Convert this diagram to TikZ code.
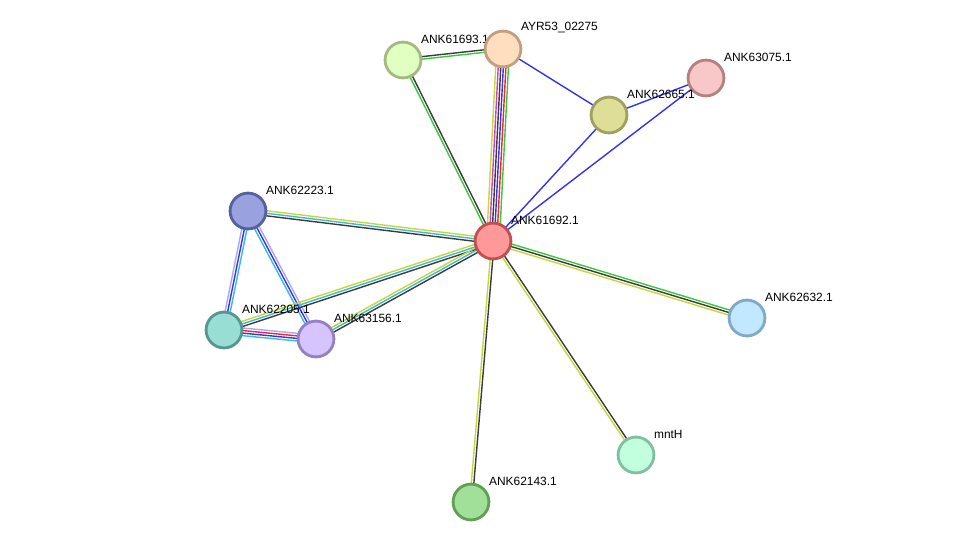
\documentclass[tikz,border=0pt]{standalone}
\usepackage{fontspec}
\setmainfont{Liberation Sans}
\usepackage{tikz}
\usetikzlibrary{calc, backgrounds}
\definecolor{TextMine}{HTML}{C4D83A}
\definecolor{CoExpr}{HTML}{3C3C3C}
\definecolor{DataBase}{HTML}{3CBCD8}
\definecolor{Neighb}{HTML}{3CC83C}
\definecolor{Fusion}{HTML}{F02828}
\definecolor{CoOccur}{HTML}{3434F0}
\definecolor{Experim}{HTML}{D040D0}
\definecolor{Homol}{HTML}{A8A8F8}

\newcommand{\evid}[4]{%
  \foreach \col [count=\k] in {#4}{
    \pgfmathsetmacro{\off}{(\k-(#3+1)/2)*1.45}
    \draw[evline, \col] ($(#1)!\off pt!90:(#2)$) -- ($(#2)!\off pt!-90:(#1)$);
  }}

\begin{document}
\begin{tikzpicture}[x=0.02cm, y=-0.02cm]
    \tikzstyle{prot} = [circle, minimum size=20.4pt, line width=1.6pt, inner sep=0pt]
    \tikzstyle{lbl} = [font=\fontsize{6.8}{7.5}\selectfont, inner sep=1.1pt, xshift=1.2pt]
    \tikzstyle{evline} = [line width=0.8pt]
    \useasboundingbox (0,0) rectangle (975,548);

    \node [prot, fill={rgb,255:red,255;green,153;blue,153}, draw={rgb,255:red,192;green,80;blue,80}, label={[lbl]45:ANK61692.1}] (ank61692) at (493,241) {};
    \node [prot, fill={rgb,255:red,224;green,255;blue,192}, draw={rgb,255:red,164;green,186;blue,128}, label={[lbl]45:ANK61693.1}] (ank61693) at (403,60) {};
    \node [prot, fill={rgb,255:red,255;green,222;blue,192}, draw={rgb,255:red,192;green,160;blue,128}, label={[lbl]45:AYR53\_02275}] (ayr53) at (503,49) {};
    \node [prot, fill={rgb,255:red,248;green,200;blue,200}, draw={rgb,255:red,180;green,128;blue,128}, label={[lbl]45:ANK63075.1}] (ank63075) at (706,78) {};
    \node [prot, fill={rgb,255:red,222;green,222;blue,153}, draw={rgb,255:red,160;green,160;blue,96}, label={[lbl]45:ANK62665.1}] (ank62665) at (609,115) {};
    \node [prot, fill={rgb,255:red,153;green,162;blue,222}, draw={rgb,255:red,84;green,96;blue,160}, label={[lbl]45:ANK62223.1}] (ank62223) at (248,211) {};
    \node [prot, fill={rgb,255:red,153;green,222;blue,212}, draw={rgb,255:red,84;green,152;blue,144}, label={[lbl]45:ANK62205.1}] (ank62205) at (224,330) {};
    \node [prot, fill={rgb,255:red,214;green,196;blue,255}, draw={rgb,255:red,148;green,128;blue,196}, label={[lbl]45:ANK63156.1}] (ank63156) at (316,339) {};
    \node [prot, fill={rgb,255:red,194;green,232;blue,255}, draw={rgb,255:red,128;green,168;blue,200}, label={[lbl]45:ANK62632.1}] (ank62632) at (747,318) {};
    \node [prot, fill={rgb,255:red,194;green,255;blue,222}, draw={rgb,255:red,128;green,192;blue,160}, label={[lbl]45:mntH}] (mnth) at (636,455) {};
    \node [prot, fill={rgb,255:red,160;green,224;blue,152}, draw={rgb,255:red,96;green,160;blue,84}, label={[lbl]45:ANK62143.1}] (ank62143) at (471,502) {};

    \begin{scope}[on background layer]
        \evid{ank61693}{ayr53}{2}{Neighb, CoExpr}
        \evid{ank61693}{ank61692}{2}{Neighb, CoExpr}
        \evid{ayr53}{ank61692}{6}{TextMine, Experim, CoExpr, CoOccur, Fusion, Neighb}
        \evid{ayr53}{ank62665}{1}{CoOccur}
        \evid{ank62665}{ank61692}{1}{CoOccur}
        \evid{ank63075}{ank61692}{1}{CoOccur}
        \evid{ank62665}{ank63075}{1}{CoOccur}
        \evid{ank62223}{ank61692}{3}{CoExpr, DataBase, TextMine}
        \evid{ank62223}{ank62205}{3}{Homol, CoOccur, DataBase}
        \evid{ank62223}{ank63156}{3}{DataBase, CoOccur, Homol}
        \evid{ank62205}{ank63156}{4}{DataBase, CoOccur, Fusion, Homol}
        \evid{ank62205}{ank61692}{3}{CoExpr, DataBase, TextMine}
        \evid{ank63156}{ank61692}{3}{CoExpr, DataBase, TextMine}
        \evid{ank61692}{ank62632}{3}{TextMine, CoExpr, Neighb}
        \evid{ank61692}{mnth}{2}{TextMine, CoExpr}
        \evid{ank61692}{ank62143}{2}{TextMine, CoExpr}
    \end{scope}
\end{tikzpicture}
\end{document}
